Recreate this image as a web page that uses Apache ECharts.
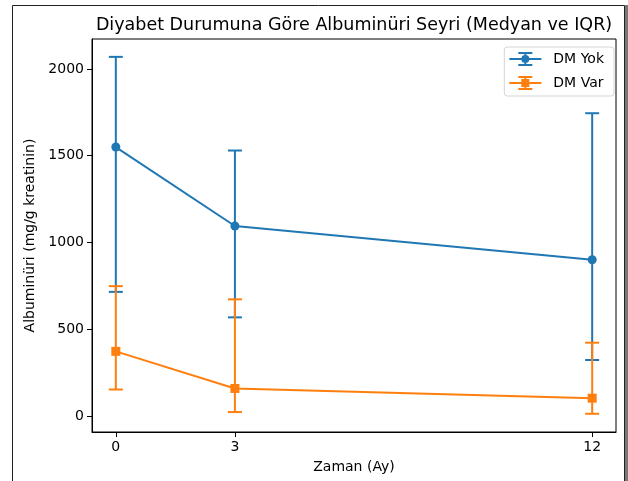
<!DOCTYPE html>
<html>
<head>
<meta charset="utf-8">
<script src="https://cdn.jsdelivr.net/npm/echarts@6/dist/echarts.min.js"></script>
<style>
html,body{margin:0;padding:0;background:#fff;}
#chart{width:628px;height:481px;}
</style>
</head>
<body>
<div id="chart"></div>
<script>
// ---- data ----
const months = [0, 3, 12];
const xTicks = [0, 3, 12];
const yTicks = [0, 500, 1000, 1500, 2000];

const yokName = 'DM Yok';
const yokMedian = [1550, 1095, 900];
const yokQ1 = [715, 568, 322];
const yokQ3 = [2070, 1530, 1745];

const varName = 'DM Var';
const varMedian = [372, 158, 102];
const varQ1 = [152, 22, 12];
const varQ3 = [748, 672, 422];

const titleText = 'Diyabet Durumuna Göre Albuminüri Seyri (Medyan ve IQR)';
const xName = 'Zaman (Ay)';
const yName = 'Albuminüri (mg/g kreatinin)';

const BLUE = '#1f77b4';
const ORANGE = '#ff7f0e';
const FONT = 'DejaVu Sans';

function linePairs(xs, ys) { return xs.map((x, i) => [x, ys[i]]); }
function errTriples(xs, lo, hi) { return xs.map((x, i) => [x, lo[i], hi[i]]); }

function errRender(color) {
  return function (params, api) {
    const x = api.value(0);
    const top = api.coord([x, api.value(2)]);
    const bot = api.coord([x, api.value(1)]);
    const cap = 7;
    const st = { stroke: color, lineWidth: 2, fill: null };
    return {
      type: 'group',
      children: [
        { type: 'line', shape: { x1: top[0], y1: top[1], x2: bot[0], y2: bot[1] }, style: st },
        { type: 'line', shape: { x1: top[0] - cap, y1: top[1], x2: top[0] + cap, y2: top[1] }, style: st },
        { type: 'line', shape: { x1: bot[0] - cap, y1: bot[1], x2: bot[0] + cap, y2: bot[1] }, style: st }
      ]
    };
  };
}

const iconCircle = 'path://M0,6h32v2H0Z M15,0h2v14h-2Z M9,0h14v2H9Z M9,12h14v2H9Z M12,7a4,4 0 1,1 8,0a4,4 0 1,1 -8,0Z';
const iconSquare = 'path://M0,6h32v2H0Z M15,0h2v14h-2Z M9,0h14v2H9Z M9,12h14v2H9Z M12,3h8v8h-8Z';

const chart = echarts.init(document.getElementById('chart'), null, { renderer: 'canvas' });

const axisCommon = {
  axisLine: { show: true, onZero: false, lineStyle: { color: '#000', width: 1 } },
  axisTick: { show: true, inside: false, length: 5, lineStyle: { color: '#000', width: 1 } },
  splitLine: { show: false },
  nameTextStyle: { fontFamily: FONT, fontSize: 14, color: '#000' }
};

chart.setOption({
  animation: false,
  backgroundColor: '#fff',
  textStyle: { fontFamily: FONT },
  title: {
    text: titleText,
    left: 349,
    textAlign: 'center',
    top: 11,
    textStyle: { fontFamily: FONT, fontSize: 17.5, fontWeight: 'normal', color: '#000' }
  },
  graphic: [
    { type: 'rect', z: -10, silent: true, shape: { x: 12.5, y: 5.5, width: 612, height: 500 }, style: { fill: 'none', stroke: '#222', lineWidth: 1 } },
    { type: 'line', z: -10, silent: true, shape: { x1: 626.5, y1: 5, x2: 626.5, y2: 481 }, style: { stroke: '#777', lineWidth: 3 } }
  ],
  grid: {
    left: 92, right: 12, top: 39, bottom: 49,
    show: true, borderColor: '#000', borderWidth: 1, backgroundColor: 'transparent'
  },
  legend: {
    orient: 'vertical',
    right: 14,
    top: 47,
    itemWidth: 32,
    itemHeight: 14,
    itemGap: 10,
    padding: [5, 10, 6, 5],
    borderColor: '#d5d5d5',
    borderWidth: 1,
    borderRadius: 3,
    backgroundColor: 'rgba(255,255,255,0.8)',
    itemStyle: { borderWidth: 0 },
    textStyle: { fontFamily: FONT, fontSize: 14, color: '#000', padding: [0, 0, 0, 7] },
    data: [
      { name: yokName, icon: iconCircle },
      { name: varName, icon: iconSquare }
    ]
  },
  xAxis: Object.assign({}, axisCommon, {
    type: 'value',
    min: -0.6,
    max: 12.6,
    name: xName,
    nameLocation: 'middle',
    nameGap: 28,
    axisTick: Object.assign({}, axisCommon.axisTick, { customValues: xTicks }),
    axisLabel: { customValues: xTicks, fontFamily: FONT, fontSize: 14, color: '#000', margin: 8 }
  }),
  yAxis: Object.assign({}, axisCommon, {
    type: 'value',
    min: -93,
    max: 2173,
    name: yName,
    nameLocation: 'middle',
    nameGap: 52,
    axisTick: Object.assign({}, axisCommon.axisTick, { customValues: yTicks }),
    axisLabel: { customValues: yTicks, formatter: function (v) { return String(v); }, fontFamily: FONT, fontSize: 14, color: '#000', margin: 8 }
  }),
  series: [
    {
      name: yokName + ' IQR', type: 'custom', z: 2,
      renderItem: errRender(BLUE),
      encode: { x: 0, y: [1, 2] },
      data: errTriples(months, yokQ1, yokQ3)
    },
    {
      name: yokName, type: 'line', z: 3,
      data: linePairs(months, yokMedian),
      symbol: 'circle', symbolSize: 9, showSymbol: true,
      lineStyle: { color: BLUE, width: 2 },
      itemStyle: { color: BLUE, borderWidth: 0 }
    },
    {
      name: varName + ' IQR', type: 'custom', z: 4,
      renderItem: errRender(ORANGE),
      encode: { x: 0, y: [1, 2] },
      data: errTriples(months, varQ1, varQ3)
    },
    {
      name: varName, type: 'line', z: 5,
      data: linePairs(months, varMedian),
      symbol: 'rect', symbolSize: 9, showSymbol: true,
      lineStyle: { color: ORANGE, width: 2 },
      itemStyle: { color: ORANGE, borderWidth: 0 }
    }
  ]
});
</script>
</body>
</html>
